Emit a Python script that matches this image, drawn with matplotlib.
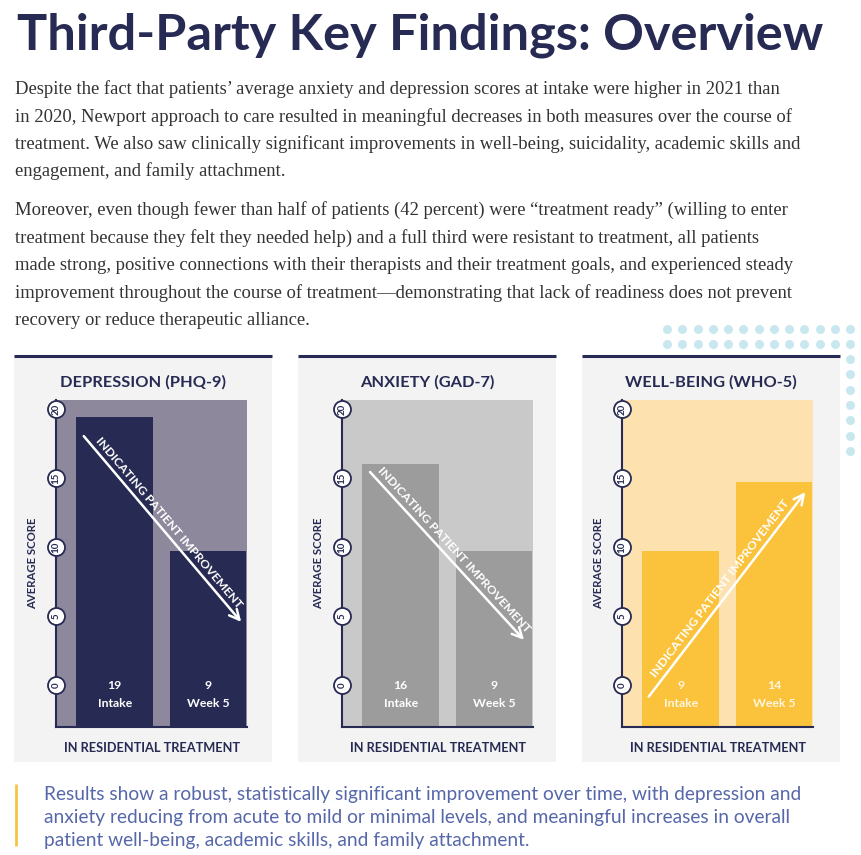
import numpy as np
import matplotlib.pyplot as plt
from matplotlib.patches import Rectangle

W, H = 861, 855

# chart data
measures = ['DEPRESSION (PHQ-9)', 'ANXIETY (GAD-7)', 'WELL-BEING (WHO-5)']
timepoints = ['Intake', 'Week 5']
score_labels = [[19, 9], [16, 9], [9, 14]]
bar_heights = [[19.4, 9.7], [16.0, 9.7], [9.7, 14.7]]   # as drawn in the picture
y_ticks = [0, 5, 10, 15, 20]

title = 'Third-Party Key Findings: Overview'
para_lines = [
    'Despite the fact that patients\u2019 average anxiety and depression scores at intake were higher in 2021 than',
    'in 2020, Newport approach to care resulted in meaningful decreases in both measures over the course of',
    'treatment. We also saw clinically significant improvements in well-being, suicidality, academic skills and',
    'engagement, and family attachment.',
    'Moreover, even though fewer than half of patients (42 percent) were \u201ctreatment ready\u201d (willing to enter',
    'treatment because they felt they needed help) and a full third were resistant to treatment, all patients',
    'made strong, positive connections with their therapists and their treatment goals, and experienced steady',
    'improvement throughout the course of treatment\u2014demonstrating that lack of readiness does not prevent',
    'recovery or reduce therapeutic alliance.',
]
note_lines = [
    'Results show a robust, statistically significant improvement over time, with depression and',
    'anxiety reducing from acute to mild or minimal levels, and meaningful increases in overall',
    'patient well-being, academic skills, and family attachment.',
]

NAVY = '#272a53'
PANEL_BG = '#f3f3f3'
bg_colors = ['#8e889c', '#c9c9c9', '#fde2b0']
bar_colors = ['#272a53', '#9c9c9c', '#fbc23b']
label_colors = ['white', 'white', '#fff6e0']

plt.rcParams['font.family'] = ['Lato', 'DejaVu Sans']

fig = plt.figure(figsize=(W / 100, H / 100), dpi=100)
fig.patch.set_facecolor('white')
renderer = fig.canvas.get_renderer()

# full-figure layer in pixel units for decoration
base = fig.add_axes([0, 0, 1, 1], zorder=0)
base.set_xlim(0, W)
base.set_ylim(H, 0)
base.axis('off')


def fit(t, target):
    w = t.get_window_extent(renderer).width
    t.set_fontsize(t.get_fontsize() * target / w)


def px_rect(x0, y0, x1, y1):
    return [x0 / W, 1 - y1 / H, (x1 - x0) / W, (y1 - y0) / H]


# heading
t = base.text(17, 50, title, fontsize=34, fontweight='bold', color=NAVY, va='baseline')
fit(t, 806)

# body paragraphs
y = 94
for i, line in enumerate(para_lines):
    t = base.text(15, y, line, family='Liberation Serif', fontsize=12.5, color='#333333', va='baseline')
    if i == 0:
        fit(t, 769)
        body_fs = t.get_fontsize()
    else:
        t.set_fontsize(body_fs)
    y += 27.5 if i != 3 else 38.5

# dotted decoration
dot_x = 667 + 15.25 * np.arange(13)
for yy in (329, 344):
    base.scatter(dot_x, np.full(13, yy), s=42, color='#c8e7ee', lw=0)
col_y = 359 + 15.3 * np.arange(7)
base.scatter(np.full(7, 850), col_y, s=42, color='#c8e7ee', lw=0)

# panels
panel_x = [14, 298, 582]
panel_w = 258
ax_left = [56, 342, 622]
ax_w = 191
ax_top, ax_bot = 400, 727
zero_px, px_per_unit = 685, 13.8
ymin = -(ax_bot - zero_px) / px_per_unit
ymax = (zero_px - ax_top) / px_per_unit

arrows = [((0.136, 0.896), (0.979, 0.315)),
          ((0.137, 0.786), (0.963, 0.260)),
          ((0.131, 0.086), (0.969, 0.725))]

x = np.arange(len(timepoints))
for k, name in enumerate(measures):
    px0 = panel_x[k]
    base.add_patch(Rectangle((px0, 357), panel_w, 405, color=PANEL_BG, lw=0))
    base.plot([px0, px0 + panel_w], [356, 356], color=NAVY, lw=2.2, solid_capstyle='butt')
    base.text(px0 + panel_w / 2, 382, name, ha='center', va='center', fontsize=11.8,
              fontweight='bold', color=NAVY)

    ax = fig.add_axes(px_rect(ax_left[k], ax_top, ax_left[k] + ax_w, ax_bot), zorder=2)
    ax.set_facecolor(bg_colors[k])
    ax.set_xlim(-0.63, 1.42)
    ax.set_ylim(ymin, ymax)
    heights = np.array(bar_heights[k])
    ax.bar(x, heights - ymin, bottom=ymin, width=0.82, color=bar_colors[k], lw=0)
    for s in ('top', 'right'):
        ax.spines[s].set_visible(False)
    for s in ('left', 'bottom'):
        ax.spines[s].set_color(NAVY)
        ax.spines[s].set_linewidth(1.5)
    ax.set_xticks([])
    ax.set_yticks([])

    # circled tick numbers
    ax.scatter(np.full(len(y_ticks), -0.63), y_ticks, s=150, facecolor='white',
               edgecolor=NAVY, lw=1.3, clip_on=False, zorder=5)
    for v in y_ticks:
        ax.text(-0.63, v, str(v), rotation=90, ha='center', va='center', fontsize=7,
                fontweight='bold', color=NAVY, zorder=6, clip_on=False)

    ax.set_ylabel('AVERAGE SCORE', fontsize=8.2, fontweight='bold', color=NAVY, labelpad=13)
    ax.set_xlabel('IN RESIDENTIAL TREATMENT', fontsize=9.2, fontweight='bold', color=NAVY, labelpad=11)

    for xi, lab, tp in zip(x, score_labels[k], timepoints):
        ax.text(xi, 0, str(lab), ha='center', va='center', fontsize=8.8, fontweight='bold',
                color=label_colors[k])
        ax.annotate(tp, (xi, 0), xytext=(0, -13), textcoords='offset points', ha='center',
                    va='center', fontsize=8.8, fontweight='bold', color=label_colors[k])

    # improvement arrow
    start, tip = arrows[k]
    ax.annotate('', xy=tip, xytext=start, xycoords='axes fraction',
                arrowprops=dict(arrowstyle='->', color='white', lw=1.8, mutation_scale=18))
    p0 = ax.transAxes.transform(start)
    p1 = ax.transAxes.transform(tip)
    d = p1 - p0
    ang = np.degrees(np.arctan2(d[1], d[0]))
    n = np.array([-d[1], d[0]]) / np.hypot(*d)
    mid = (p0 + p1) / 2 + n * 9
    mid_ax = ax.transAxes.inverted().transform(mid)
    ax.text(mid_ax[0], mid_ax[1], 'INDICATING PATIENT IMPROVEMENT', transform=ax.transAxes,
            rotation=ang, rotation_mode='anchor', ha='center', va='center', fontsize=8.8,
            fontweight='bold', color='white')

# closing note
base.plot([15.5, 15.5], [784, 846], color='#f5c443', lw=2, solid_capstyle='butt')
y = 800
for i, line in enumerate(note_lines):
    t = base.text(44, y, line, fontsize=12.5, color='#5667aa', va='baseline')
    if i == 0:
        fit(t, 757)
        note_fs = t.get_fontsize()
    else:
        t.set_fontsize(note_fs)
    y += 23

fig.savefig('out.png', dpi=100)
